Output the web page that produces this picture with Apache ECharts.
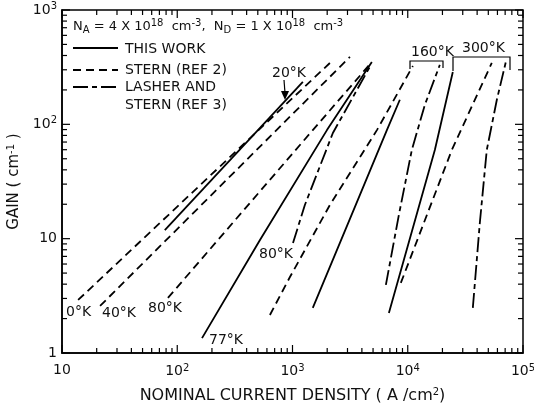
<!DOCTYPE html>
<html>
<head>
<meta charset="utf-8">
<script src="https://cdn.jsdelivr.net/npm/echarts@6/dist/echarts.min.js"></script>
<style>
  html, body { margin: 0; padding: 0; background: #fff; }
  #main { width: 534px; height: 406px; }
</style>
</head>
<body>
<div id="main"></div>
<script>
// gain vs nominal current density, [A/cm2, cm-1] pairs

// STERN (REF 2) - dashed
var dash0K = [[13.8, 2.91], [2110, 344]];
var dash40K = [[21.4, 2.58], [3150, 389]];
var dash80K = [[83, 3.03], [1500, 89], [4880, 351]];
var dash160K = [[637, 2.15], [950, 4.62], [2110, 19.7], [5400, 89], [11080, 324]];
var dash300K = [[8710, 4.1], [24130, 59.7], [53600, 344]];

// THIS WORK - solid
var solid20K = [[78, 11.9], [1230, 235]];
var solid77K = [[164, 1.35], [522, 9.74], [1990, 89], [4880, 351]];
var solid160K = [[1500, 2.48], [3690, 21.8], [6590, 89], [8540, 164]];
var solid300K = [[6860, 2.24], [17180, 59.7], [24600, 287]];

// LASHER AND STERN (REF 3) - dash dot
var dashDot80K = [[1010, 9.17], [1280, 19.7], [2240, 84], [4790, 331]];
var dashDot160K = [[6460, 3.94], [8370, 16.1], [10850, 59.7], [14070, 148], [18980, 331]];
var dashDot300K = [[36700, 2.48], [42200, 13.7], [48500, 59.7], [59300, 164], [70950, 351]];

// axis decades
var xDecades = [10, 100, 1000, 10000, 100000];
var yDecades = [1, 10, 100, 1000];

var FONT = 'DejaVu Sans';
var DASH = [8, 5];
var DASHDOT = [15, 4, 5, 4];

function expLabel(v) {
  var e = Math.round(Math.log(v) / Math.LN10);
  if (e === 0) return '1';
  if (e === 1) return '10';
  return '10{sup|' + e + '}';
}

var supRich = {
  sup: { fontSize: 10, fontFamily: FONT, color: '#111', verticalAlign: 'bottom', padding: [0, 0, 7, 0] }
};

function lineSeries(name, data, dash) {
  return {
    name: name,
    type: 'line',
    data: data,
    symbol: 'none',
    silent: true,
    lineStyle: { color: '#000', width: 1.8, type: dash }
  };
}

function label(txt, x, y) {
  return { type: 'text', x: x, y: y, silent: true,
    style: { text: txt, fontSize: 14, fontFamily: FONT, fill: '#111', verticalAlign: 'middle' } };
}

var baseGraphic = [
  // header + legend
  { type: 'text', x: 73, y: 27, style: {
    text: 'N{sub|A} = 4 X 10{sup|18}  cm{sup|-3},  N{sub|D} = 1 X 10{sup|18}  cm{sup|-3}',
    fontSize: 13, fontFamily: FONT, fill: '#111', verticalAlign: 'middle',
    rich: {
      sup: { fontSize: 10, fontFamily: FONT, fill: '#111', verticalAlign: 'bottom', padding: [0, 0, 7, 0] },
      sub: { fontSize: 10, fontFamily: FONT, fill: '#111', verticalAlign: 'top', padding: [7, 0, 0, 0] }
    }
  } },
  { type: 'line', shape: { x1: 73, y1: 48, x2: 118, y2: 48 }, style: { stroke: '#000', lineWidth: 2 } },
  { type: 'line', shape: { x1: 73, y1: 70, x2: 118, y2: 70 }, style: { stroke: '#000', lineWidth: 2, lineDash: DASH } },
  { type: 'line', shape: { x1: 73, y1: 87, x2: 118, y2: 87 }, style: { stroke: '#000', lineWidth: 2, lineDash: DASHDOT } },
  label('THIS WORK', 125, 49),
  label('STERN (REF 2)', 125, 70),
  label('LASHER AND', 125, 87),
  label('STERN (REF 3)', 125, 105),

  // temperature labels
  label('0°K', 66, 312),
  label('40°K', 102, 313),
  label('80°K', 148, 308),
  label('77°K', 209, 340),
  label('80°K', 259, 254),
  label('20°K', 272, 73),
  label('160°K', 411, 52),
  label('300°K', 462, 48),

  // brackets + arrow
  { type: 'polyline', shape: { points: [[410, 69], [410, 61], [443, 61], [443, 68]] }, style: { stroke: '#000', lineWidth: 1.2, fill: null } },
  { type: 'polyline', shape: { points: [[453, 71], [453, 57], [510, 57], [510, 70]] }, style: { stroke: '#000', lineWidth: 1.2, fill: null } },
  { type: 'line', shape: { x1: 284, y1: 80, x2: 285, y2: 93 }, style: { stroke: '#000', lineWidth: 1.2 } },
  { type: 'polygon', shape: { points: [[281, 91], [289, 91], [285, 100]] }, style: { fill: '#000' } }
];

var chart = echarts.init(document.getElementById('main'));

var option = {
  backgroundColor: '#fff',
  animation: false,
  grid: {
    left: 62, right: 11, top: 10, bottom: 53,
    outerBoundsMode: 'none',
    containLabel: false,
    show: true, borderColor: '#000', borderWidth: 1.5
  },
  xAxis: {
    type: 'log',
    logBase: 10,
    min: 10,
    max: 100000,
    name: 'NOMINAL CURRENT DENSITY ( A /cm{sup|2})',
    nameLocation: 'middle',
    nameGap: 34,
    nameTextStyle: { fontSize: 16, fontFamily: FONT, color: '#111', rich: supRich },
    axisLine: { show: true, lineStyle: { color: '#000', width: 1.5 } },
    axisTick: { show: false },
    splitLine: { show: false },
    axisLabel: {
      formatter: expLabel,
      margin: 10,
      fontSize: 14,
      fontFamily: FONT,
      color: '#111',
      rich: supRich
    }
  },
  yAxis: {
    type: 'log',
    logBase: 10,
    min: 1,
    max: 1000,
    name: 'GAIN ( cm{sup|-1} )',
    nameLocation: 'middle',
    nameRotate: 90,
    nameGap: 31,
    nameTextStyle: { fontSize: 15, fontFamily: FONT, color: '#111', rich: supRich },
    axisLine: { show: true, lineStyle: { color: '#000', width: 1.5 } },
    axisTick: { show: false },
    splitLine: { show: false },
    axisLabel: {
      formatter: expLabel,
      margin: 5,
      fontSize: 14,
      fontFamily: FONT,
      color: '#111',
      rich: supRich
    }
  },
  series: [
    lineSeries('STERN (REF 2)', dash0K, DASH),
    lineSeries('STERN (REF 2)', dash40K, DASH),
    lineSeries('STERN (REF 2)', dash80K, DASH),
    lineSeries('STERN (REF 2)', dash160K, DASH),
    lineSeries('STERN (REF 2)', dash300K, DASH),
    lineSeries('THIS WORK', solid20K, 'solid'),
    lineSeries('THIS WORK', solid77K, 'solid'),
    lineSeries('THIS WORK', solid160K, 'solid'),
    lineSeries('THIS WORK', solid300K, 'solid'),
    lineSeries('LASHER AND STERN (REF 3)', dashDot80K, DASHDOT),
    lineSeries('LASHER AND STERN (REF 3)', dashDot160K, DASHDOT),
    lineSeries('LASHER AND STERN (REF 3)', dashDot300K, DASHDOT)
  ],
  graphic: baseGraphic
};

chart.setOption(option);

// tick marks on all four sides (decades + 2..9), placed through the axes
var yTopPx = chart.convertToPixel({ yAxisIndex: 0 }, 1000);
var yBotPx = chart.convertToPixel({ yAxisIndex: 0 }, 1);
var xLeftPx = chart.convertToPixel({ xAxisIndex: 0 }, 10);
var xRightPx = chart.convertToPixel({ xAxisIndex: 0 }, 100000);
var tickStyle = { stroke: '#000', lineWidth: 1.2 };
var ticks = [];

function xTick(v, len) {
  var px = chart.convertToPixel({ xAxisIndex: 0 }, v);
  ticks.push({ type: 'line', silent: true, shape: { x1: px, y1: yBotPx, x2: px, y2: yBotPx - len }, style: tickStyle });
  ticks.push({ type: 'line', silent: true, shape: { x1: px, y1: yTopPx, x2: px, y2: yTopPx + len }, style: tickStyle });
}
function yTick(v, len) {
  var py = chart.convertToPixel({ yAxisIndex: 0 }, v);
  ticks.push({ type: 'line', silent: true, shape: { x1: xLeftPx, y1: py, x2: xLeftPx + len, y2: py }, style: tickStyle });
  ticks.push({ type: 'line', silent: true, shape: { x1: xRightPx, y1: py, x2: xRightPx - len, y2: py }, style: tickStyle });
}

xDecades.forEach(function (d, i) {
  xTick(d, 8);
  if (i < xDecades.length - 1) {
    for (var k = 2; k <= 9; k++) xTick(d * k, 5);
  }
});
yDecades.forEach(function (d, i) {
  yTick(d, 8);
  if (i < yDecades.length - 1) {
    for (var k = 2; k <= 9; k++) yTick(d * k, 5);
  }
});

chart.setOption({ graphic: baseGraphic.concat(ticks) });
</script>
</body>
</html>
